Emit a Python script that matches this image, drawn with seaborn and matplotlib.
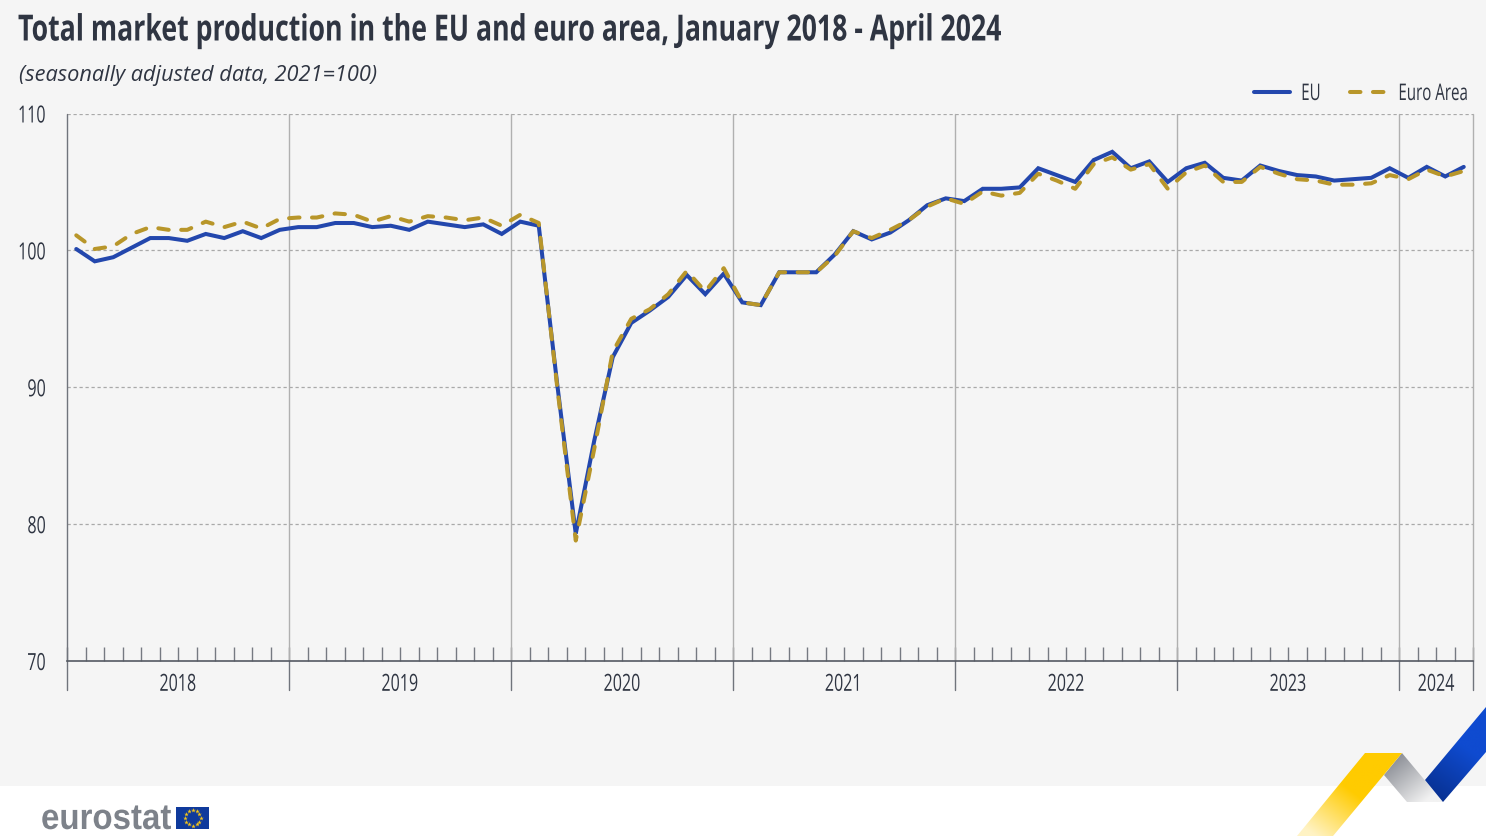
import numpy as np
import pandas as pd
import matplotlib
matplotlib.use('Agg')
import matplotlib.pyplot as plt
from matplotlib.patches import Polygon, Rectangle
from matplotlib.patheffects import AbstractPathEffect
from matplotlib.transforms import Affine2D, blended_transform_factory
import seaborn as sns

years = [2018, 2019, 2020, 2021, 2022, 2023, 2024]
months_in_year = [12, 12, 12, 12, 12, 12, 4]
yticks = [70, 80, 90, 100, 110]

eu = [100.1, 99.2, 99.5, 100.2, 100.9, 100.9, 100.7, 101.2, 100.9, 101.4, 100.9, 101.5,
      101.7, 101.7, 102.0, 102.0, 101.7, 101.8, 101.5, 102.1, 101.9, 101.7, 101.9, 101.2,
      102.1, 101.8, 90.2, 79.3, 86.1, 92.2, 94.7, 95.6, 96.6, 98.2, 96.8, 98.3,
      96.2, 96.0, 98.4, 98.4, 98.4, 99.7, 101.4, 100.8, 101.3, 102.2, 103.3, 103.8,
      103.6, 104.5, 104.5, 104.6, 106.0, 105.5, 105.0, 106.6, 107.2, 106.0, 106.5, 105.0,
      106.0, 106.4, 105.3, 105.1, 106.2, 105.8, 105.5, 105.4, 105.1, 105.2, 105.3, 106.0,
      105.3, 106.1, 105.4, 106.1]
euro_area = [101.1, 100.1, 100.3, 101.2, 101.7, 101.5, 101.5, 102.1, 101.7, 102.1, 101.6, 102.3,
             102.4, 102.4, 102.7, 102.6, 102.1, 102.5, 102.1, 102.5, 102.4, 102.2, 102.4, 101.8,
             102.6, 102.0, 90.0, 78.8, 85.5, 92.6, 95.0, 95.7, 96.8, 98.5, 97.0, 98.7,
             96.2, 96.0, 98.4, 98.4, 98.4, 99.6, 101.4, 100.9, 101.5, 102.2, 103.2, 103.8,
             103.4, 104.3, 104.0, 104.2, 105.6, 105.1, 104.5, 106.3, 106.8, 105.9, 106.3, 104.5,
             105.7, 106.2, 105.0, 105.0, 106.1, 105.6, 105.2, 105.1, 104.8, 104.8, 104.9, 105.5,
             105.2, 105.9, 105.4, 105.8]

W, H = 1486, 836
BG = '#f5f5f5'
INK = '#2f3542'


# no condensed font installed: squeeze real text sideways when it is drawn
class Squeeze(AbstractPathEffect):
    def __init__(self, sx, align=0.0, dx=0.0):
        super().__init__()
        self.sx = sx
        self.align = align
        self.dx = dx

    def draw_path(self, renderer, gc, tpath, affine, rgbFace=None):
        w = tpath.vertices[:, 0].max() if len(tpath.vertices) else 0
        squeeze = Affine2D().scale(self.sx, 1).translate((1 - self.sx) * w * self.align, 0)
        renderer.draw_path(gc, tpath, squeeze + affine + Affine2D().translate(self.dx, 0), rgbFace)


sns.set_theme(style='white')
plt.rcParams['font.family'] = ['Open Sans', 'DejaVu Sans']

df = pd.DataFrame({'month': list(range(len(eu))) * 2,
                   'value': eu + euro_area,
                   'series': ['EU'] * len(eu) + ['Euro Area'] * len(euro_area)})

fig = plt.figure(figsize=(W / 100, H / 100), dpi=100, facecolor='white')

# grey panel behind everything, white strip at the bottom
bg = fig.add_axes([0, 0, 1, 1], zorder=0)
bg.set_xlim(0, W)
bg.set_ylim(H, 0)
bg.axis('off')
bg.add_patch(Rectangle((0, 0), W, 786, color=BG, lw=0))

ax = fig.add_axes([67 / W, 1 - 661 / H, (1473 - 67) / W, (661 - 113.5) / H], zorder=1)
ax.patch.set_alpha(0)
sns.lineplot(data=df, x='month', y='value', hue='series', style='series',
             palette={'EU': '#2347ad', 'Euro Area': '#b8962a'},
             dashes={'EU': '', 'Euro Area': (2.6, 3.1)},
             linewidth=2.9, ax=ax)
for line in ax.get_lines():
    line.set_dash_capstyle('round')
    line.set_solid_capstyle('round')
    line.set_solid_joinstyle('miter')

ax.set_xlim(-0.5, len(eu) - 0.5)
ax.set_ylim(70, 110)
ax.set_xlabel('')
ax.set_ylabel('')
for s in ['top', 'right', 'left']:
    ax.spines[s].set_visible(False)
ax.spines['bottom'].set_color('#555a63')
ax.spines['bottom'].set_linewidth(1.2)

ax.set_yticks(yticks)
ax.set_yticklabels([str(v) for v in yticks], fontsize=17, color=INK)
ax.tick_params(axis='y', length=0, pad=15)
for lab in ax.get_yticklabels():
    lab.set_path_effects([Squeeze(0.68, 1)])
for v in yticks[1:]:
    ax.axhline(v, color='#a9a9a9', lw=0.9, ls=(0, (2.6, 2.2)), zorder=0.5)

# year boundaries run through the axis down to the labels
edges = np.cumsum([0] + months_in_year) - 0.5
centres = (edges[:-1] + edges[1:]) / 2
trans = blended_transform_factory(ax.transData, ax.transAxes)
for i, e in enumerate(edges):
    c = '#70747c' if i == 0 else '#b0b0b0'
    ax.plot([e, e], [0, 1], transform=trans, color=c, lw=1.0, zorder=0.6, clip_on=False)
    ax.plot([e, e], [-29 / 547.5, 0], transform=trans, color='#70747c', lw=1.0, clip_on=False)

ax.xaxis.remove_overlapping_locs = False
ax.set_xticks(centres)
ax.set_xticklabels([str(y) for y in years], fontsize=17, color=INK)
ax.tick_params(axis='x', which='major', length=0, pad=8.5, bottom=True)
for lab in ax.get_xticklabels():
    lab.set_path_effects([Squeeze(0.68, 0.5)])
ax.set_xticks(np.arange(-0.5, len(eu)), minor=True)
ax.tick_params(axis='x', which='minor', direction='in', length=10, width=1.0, color='#767a82', bottom=True)

# labels keep their full width in the layout, so the pad is negative and the glyphs are moved back
handles, labels = ax.get_legend_handles_labels()
leg = ax.legend(handles, labels, frameon=False, ncol=2, fontsize=16.5, labelcolor=INK,
                loc='lower right', bbox_to_anchor=(1484 / W, 1 - 106 / H),
                bbox_transform=fig.transFigure, handlelength=1.6, handletextpad=-0.35,
                columnspacing=1.66, borderpad=0, borderaxespad=0)
for t, shift in zip(leg.get_texts(), [19, 20]):
    t.set_path_effects([Squeeze(0.66, 0, shift)])
for h in leg.get_lines():
    h.set_dash_capstyle('round')
    h.set_solid_capstyle('round')

fig.text(18 / W, 1 - 40.5 / H, 'Total market production in the EU and euro area, January 2018 - April 2024',
         fontsize=26, fontweight='bold', color=INK, ha='left', va='baseline',
         path_effects=[Squeeze(0.739)])
fig.text(19 / W, 1 - 81 / H, '(seasonally adjusted data, 2021=100)',
         fontsize=15.7, style='italic', color=INK, ha='left', va='baseline')

# decoration layer, in pixel coordinates
top = fig.add_axes([0, 0, 1, 1], zorder=2)
top.set_xlim(0, W)
top.set_ylim(H, 0)
top.axis('off')
top.patch.set_alpha(0)


def ribbon(points, c0, c1, p0, p1):
    xs, ys = np.meshgrid(np.linspace(1290, W, 200), np.linspace(700, H, 140))
    d = np.array(p1, float) - np.array(p0, float)
    t = np.clip(((xs - p0[0]) * d[0] + (ys - p0[1]) * d[1]) / (d @ d), 0, 1)[..., None]
    c0 = np.array(matplotlib.colors.to_rgb(c0))
    c1 = np.array(matplotlib.colors.to_rgb(c1))
    im = top.imshow(c0 + (c1 - c0) * t, extent=(1290, W, H, 700), aspect='auto', interpolation='bilinear')
    poly = Polygon(points, closed=True, transform=top.transData, fc='none', lw=0)
    top.add_patch(poly)
    im.set_clip_path(poly)


ribbon([(1384, 775), (1402, 753), (1443, 802), (1407, 802)], '#8f9299', '#f2f2f2', (1392, 762), (1425, 802))
ribbon([(1365, 753), (1402, 753), (1333, 836), (1297, 836)], '#ffcb00', '#fff3c4', (1350, 790), (1315, 836))
ribbon([(1425, 780), (1486, 707), (1486, 752), (1443, 802)], '#08308f', '#0f4bd0', (1435, 800), (1470, 750))
top.set_xlim(0, W)
top.set_ylim(H, 0)

top.text(41, 829, 'eurostat', fontsize=26, fontweight='bold', color='#7d828a', ha='left', va='baseline',
         family=['Liberation Sans', 'DejaVu Sans'], path_effects=[Squeeze(0.915)])
top.add_patch(Rectangle((176, 806.5), 32.5, 22.5, color='#0f3a9c', lw=0))
ang = np.arange(12) * np.pi / 6
top.scatter(192.5 + 8 * np.cos(ang), 817.5 + 8 * np.sin(ang), marker='*', s=12, color='#f5c518', lw=0)

fig.savefig('out.png', dpi=100, facecolor='white')
